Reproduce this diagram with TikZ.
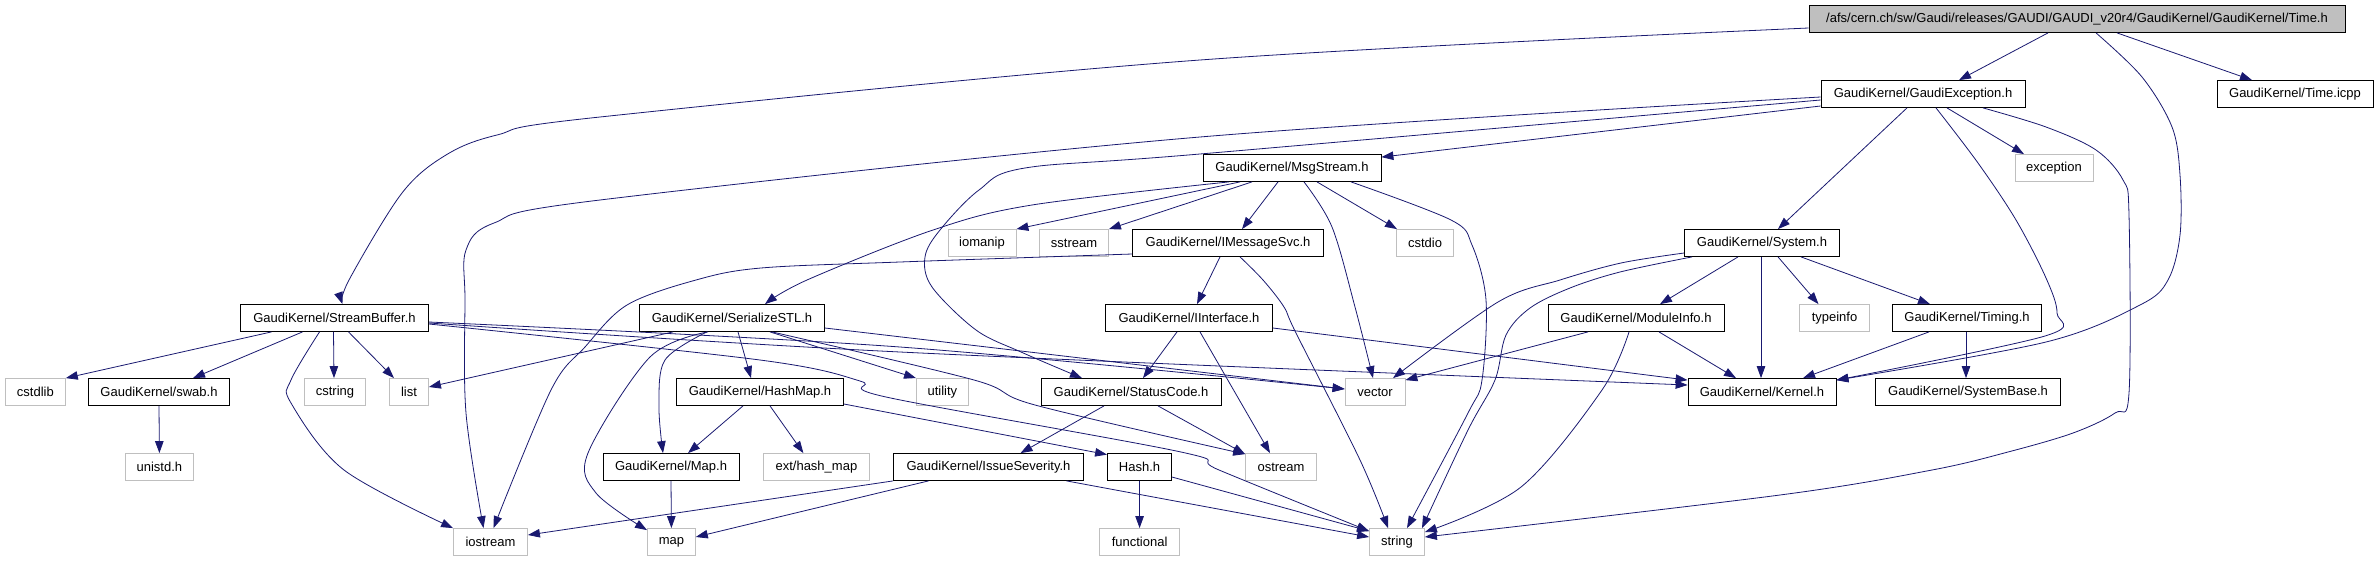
\documentclass[tikz,border=0pt]{standalone}
\usepackage{fontspec}
\setmainfont{Liberation Sans}
\usetikzlibrary{arrows.meta}
\definecolor{edgec}{HTML}{191970}
\definecolor{grayb}{HTML}{BFBFBF}
\begin{document}
\begin{tikzpicture}[x=1pt,y=-1pt,
  box/.style={draw=black, line width=0.8pt, minimum height=27pt, inner sep=0pt, fill=white,
    font=\fontsize{13}{15}\selectfont},
  sysbox/.style={box, draw=grayb},
  rootbox/.style={box, fill=grayb},
  e/.style={draw=edgec, line width=0.8pt, -{Triangle[length=12pt,width=8.5pt]}},
  sm/.style={smooth, tension=0.55}]
\useasboundingbox (0,0) rectangle (2377,560);

% nodes
\node[rootbox, minimum width=536pt] (root) at (2077,19) {/afs/cern.ch/sw/Gaudi/releases/GAUDI/GAUDI\_v20r4/GaudiKernel/GaudiKernel/Time.h};
\node[box, minimum width=204pt] (gexc) at (1923,94) {GaudiKernel/GaudiException.h};
\node[box, minimum width=156pt] (ticpp) at (2295,94) {GaudiKernel/Time.icpp};
\node[sysbox, minimum width=78pt] (exception) at (2054,168) {exception};
\node[box, minimum width=178pt] (msgs) at (1292,168) {GaudiKernel/MsgStream.h};
\node[sysbox, minimum width=68pt] (iomanip) at (982,243) {iomanip};
\node[sysbox, minimum width=69pt] (sstream) at (1074,243) {sstream};
\node[box, minimum width=191pt] (imsg) at (1228,243) {GaudiKernel/IMessageSvc.h};
\node[sysbox, minimum width=57pt] (cstdio) at (1425,243) {cstdio};
\node[box, minimum width=155pt] (system) at (1762,243) {GaudiKernel/System.h};
\node[box, minimum width=188pt] (sbuf) at (334.5,318) {GaudiKernel/StreamBuffer.h};
\node[box, minimum width=185pt] (sstl) at (732,318) {GaudiKernel/SerializeSTL.h};
\node[box, minimum width=167pt] (iinter) at (1189,318) {GaudiKernel/IInterface.h};
\node[box, minimum width=176pt] (modinfo) at (1636,318) {GaudiKernel/ModuleInfo.h};
\node[sysbox, minimum width=70pt] (typeinfo) at (1834.5,318) {typeinfo};
\node[box, minimum width=149pt] (timing) at (1967,318) {GaudiKernel/Timing.h};
\node[sysbox, minimum width=60pt] (cstdlib) at (35.4,392) {cstdlib};
\node[box, minimum width=141pt] (swab) at (159,392) {GaudiKernel/swab.h};
\node[sysbox, minimum width=61pt] (cstring) at (335,392) {cstring};
\node[sysbox, minimum width=39pt] (list) at (409,392) {list};
\node[box, minimum width=167pt] (hashmap) at (760,392) {GaudiKernel/HashMap.h};
\node[sysbox, minimum width=52pt] (utility) at (942.4,392) {utility};
\node[box, minimum width=180pt] (statuscode) at (1131,392) {GaudiKernel/StatusCode.h};
\node[sysbox, minimum width=60pt] (vector) at (1375,392) {vector};
\node[box, minimum width=148pt] (kernel) at (1762,392) {GaudiKernel/Kernel.h};
\node[box, minimum width=185pt] (sysbase) at (1968,392) {GaudiKernel/SystemBase.h};
\node[sysbox, minimum width=68pt] (unistd) at (159.4,467) {unistd.h};
\node[box, minimum width=136pt] (maph) at (671,467) {GaudiKernel/Map.h};
\node[sysbox, minimum width=106pt] (exthash) at (816.4,467) {ext/hash\_map};
\node[box, minimum width=190pt] (issue) at (988.5,467) {GaudiKernel/IssueSeverity.h};
\node[box, minimum width=64pt] (hash) at (1139.5,467) {Hash.h};
\node[sysbox, minimum width=71pt] (ostream) at (1281,467) {ostream};
\node[sysbox, minimum width=74pt] (iostream) at (490.5,542) {iostream};
\node[sysbox, minimum width=48pt] (map) at (671.4,542) {map};
\node[sysbox, minimum width=80pt] (functional) at (1139.6,542) {functional};
\node[sysbox, minimum width=55pt] (string) at (1397,542) {string};

% root edges
\draw[e] ([xshift=-29pt]root.south) -- ([xshift=36pt]gexc.north);
\draw[e] ([xshift=40pt]root.south) -- ([xshift=-43pt]ticpp.north);
\draw[e] plot[sm] coordinates {([xshift=19pt]root.south) (2142,77) (2172,127) (2180,175) (2180,235) (2168,280) (2140,305) (2046,342) ([yshift=-2pt]kernel.north east)};
\draw[e] plot[sm] coordinates {([yshift=-9pt]root.west) (1200,60) (600,117) (497,135) (446,155) (402,193) (349,280) ([xshift=8pt]sbuf.north)};

% GaudiException edges
\draw[e] plot[sm] coordinates {([xshift=13pt]gexc.south) (1978,163) (2016,220) (2046,278) (2057,313) (2045,336) ([yshift=-2pt]kernel.north east)};
\draw[e] plot[sm] coordinates {([yshift=-3pt]gexc.west) (1200,137) (600,200) (494,223) (466,250) (465,300) (466,413) ([xshift=-7pt]iostream.north)};
\draw[e] plot[sm] coordinates {([yshift=-6pt]gexc.west) (1200,154) (1025,168) (979,190) (940,230) (925,257) (932,287) (976,330) (1021,352) ([xshift=-49pt]statuscode.north)};
\draw[e] ([yshift=-12pt]gexc.west) -- ([yshift=-3pt]msgs.north east);
\draw[e] ([xshift=-16pt]gexc.south) -- ([xshift=16pt]system.north);
\draw[e] ([xshift=24pt]gexc.south) -- ([xshift=-30pt]exception.north);
\draw[e] plot[sm] coordinates {([xshift=60pt]gexc.south) (2046,127) (2096,150) (2123,180) (2129,215) (2129,393) (2115,413) (2073,433) (2008,452) (1932,470) (1780,495) ([yshift=5pt]string.east)};

% MsgStream edges
\draw[e] plot[sm] coordinates {([xshift=-63pt]msgs.south) (1032,205) (933,230) (807,280) ([xshift=33pt]sstl.north)};
\draw[e] ([xshift=-52pt]msgs.south) -- (iomanip.north east);
\draw[e] ([xshift=-40pt]msgs.south) -- (sstream.north east);
\draw[e] ([xshift=-14pt]msgs.south) -- ([xshift=14pt]imsg.north);
\draw[e] ([xshift=25pt]msgs.south) -- ([xshift=-28pt]cstdio.north);
\draw[e] plot[sm] coordinates {([xshift=12pt]msgs.south) (1332,227) (1355,307) ([xshift=-2pt]vector.north)};
\draw[e] plot[sm] coordinates {([xshift=59pt]msgs.south) (1451,220) (1472,245) (1486,300) (1482,380) (1468,413) ([xshift=10pt]string.north)};

% IMessageSvc edges
\draw[e] ([xshift=-8pt]imsg.south) -- ([xshift=8pt]iinter.north);
\draw[e] plot[sm] coordinates {([xshift=12pt]imsg.south) (1263,280) (1284,307) (1296,333) (1360,460) ([xshift=-9pt]string.north)};
\draw[e] plot[sm] coordinates {([yshift=-11pt]imsg.west) (900,262) (761,268) (696,280) (627,305) (585,347) (551,390) ([xshift=3pt]iostream.north)};

% System edges
\draw[e] ([xshift=-24pt]system.south) -- ([xshift=24pt]modinfo.north);
\draw[e] ([xshift=16pt]system.south) -- ([xshift=-16pt]typeinfo.north);
\draw[e] ([xshift=39pt]system.south) -- ([xshift=-37pt]timing.north);
\draw[e] ([xshift=-1pt]system.south) -- ([xshift=-1pt]kernel.north);
\draw[e] plot[sm] coordinates {([yshift=-10pt]system.west) (1621,263) (1560,280) (1498,302) ([xshift=18pt]vector.north)};
\draw[e] plot[sm] coordinates {([xshift=-70pt]system.south) (1620,272) (1570,288) (1530,308) (1506,335) (1495,380) (1468,430) ([xshift=25pt]string.north)};

% ModuleInfo edges
\draw[e] ([xshift=-48pt]modinfo.south) -- ([yshift=-2pt]vector.north east);
\draw[e] ([xshift=23pt]modinfo.south) -- ([xshift=-26pt]kernel.north);
\draw[e] plot[sm] coordinates {([xshift=-7pt]modinfo.south) (1602,390) (1521,487) ([yshift=10pt]string.east)};

% Timing edges
\draw[e] ([xshift=-38pt]timing.south) -- ([xshift=41pt]kernel.north);
\draw[e] ([xshift=-1pt]timing.south) -- ([xshift=-2pt]sysbase.north);

% StreamBuffer edges
\draw[e] ([xshift=-63pt]sbuf.south) -- (cstdlib.north east);
\draw[e] ([xshift=-32pt]sbuf.south) -- ([xshift=34pt]swab.north);
\draw[e] plot[sm] coordinates {([xshift=-15pt]sbuf.south) (291,380) (291,403) (344,470) (iostream.north west)};
\draw[e] ([xshift=-1pt]sbuf.south) -- ([xshift=-1pt]cstring.north);
\draw[e] ([xshift=14pt]sbuf.south) -- ([xshift=-15pt]list.north);
\draw[e] plot[sm] coordinates {([yshift=-4pt]sbuf.east) (900,347) ([yshift=3pt]vector.west)};
\draw[e] plot[sm] coordinates {([yshift=-5pt]sbuf.east) (900,352) ([yshift=7pt]kernel.west)};
\draw[e] plot[sm] coordinates {([yshift=-6pt]sbuf.east) (760,360) (860,381) (886,397) (1181,452) (1219,470) ([yshift=-3pt]string.north west)};

% SerializeSTL edges
\draw[e] ([xshift=-59pt]sstl.south) -- ([yshift=5pt]list.east);
\draw[e] plot[sm] coordinates {([xshift=-25pt]sstl.south) (665,360) (659,407) ([xshift=-8pt]maph.north)};
\draw[e] plot[sm] coordinates {([xshift=-24pt]sstl.south) (650,357) (588,453) (596,493) ([yshift=-2pt]map.north west)};
\draw[e] ([xshift=6pt]sstl.south) -- ([xshift=-9pt]hashmap.north);
\draw[e] ([xshift=38pt]sstl.south) -- (utility.north west);
\draw[e] plot[sm] coordinates {([xshift=40pt]sstl.south) (974,380) (1035,405) ([yshift=-1pt]ostream.north west)};
\draw[e] ([yshift=-10pt]sstl.east) -- ([yshift=3pt]vector.west);

% HashMap, Map, Hash
\draw[e] ([xshift=-17pt]hashmap.south) -- ([xshift=17pt]maph.north);
\draw[e] ([xshift=10pt]hashmap.south) -- ([xshift=-13pt]exthash.north);
\draw[e] ([yshift=-12pt]hashmap.east) -- ([yshift=-1.5pt]hash.north west);
\draw[e] (maph.south) -- (map.north);
\draw[e] (hash.south) -- (functional.north);
\draw[e] ([yshift=-10pt]hash.east) -- ([yshift=-3pt]string.north west);

% IInterface, StatusCode, IssueSeverity
\draw[e] ([xshift=-12pt]iinter.south) -- ([xshift=12pt]statuscode.north);
\draw[e] ([xshift=11pt]iinter.south) -- ([xshift=-11pt]ostream.north);
\draw[e] ([yshift=-10pt]iinter.east) -- ([yshift=-2pt]kernel.north west);
\draw[e] ([xshift=-27pt]statuscode.south) -- ([xshift=32pt]issue.north);
\draw[e] ([xshift=27pt]statuscode.south) -- ([yshift=-1pt]ostream.north west);
\draw[e] (issue.south west) -- ([yshift=7pt]iostream.east);
\draw[e] ([xshift=-60pt]issue.south) -- ([yshift=5pt]map.east);
\draw[e] ([xshift=78pt]issue.south) -- ([yshift=5pt]string.west);

% swab
\draw[e] (swab.south) -- (unistd.north);
\end{tikzpicture}
\end{document}
